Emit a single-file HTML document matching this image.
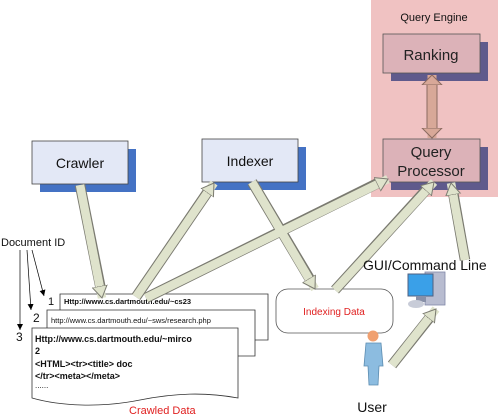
<!DOCTYPE html>
<html><head><meta charset="utf-8"><style>
html,body{margin:0;padding:0;background:#fff;}
svg{display:block;font-family:"Liberation Sans",sans-serif;}
</style></head><body>
<svg width="500" height="418" viewBox="0 0 500 418" xmlns="http://www.w3.org/2000/svg">
<defs>
<marker id="ah" markerUnits="userSpaceOnUse" markerWidth="18" markerHeight="18" refX="12" refY="8" orient="auto">
<path d="M0,0.5 L12,8 L0,15.5 z" fill="#dfe3cc" stroke="#7a7a70" stroke-width="1"/>
</marker>
<marker id="ahb" markerUnits="userSpaceOnUse" markerWidth="22" markerHeight="22" refX="10" refY="11" orient="auto-start-reverse">
<path d="M0,1 L10,11 L0,21 z" fill="#d8a898" stroke="#8a6a60" stroke-width="1"/>
</marker>
<marker id="sm" markerUnits="userSpaceOnUse" markerWidth="8" markerHeight="8" refX="6" refY="3" orient="auto">
<path d="M0,0 L6,3 L0,6 z" fill="#000"/>
</marker>
</defs>

<!-- Query engine -->
<rect x="371" y="0" width="127" height="197" fill="#f0c2c2"/>
<text x="434" y="21" font-size="11" text-anchor="middle" fill="#111">Query Engine</text>
<rect x="391" y="42" width="97" height="39" fill="#5f5a8c"/>
<rect x="383" y="34" width="97" height="39" fill="#dcb2b8" stroke="#555" stroke-width="0.8"/>
<text x="431" y="60" font-size="15" text-anchor="middle" fill="#222">Ranking</text>
<rect x="391" y="147" width="97" height="43" fill="#5f5a8c"/>
<rect x="383" y="139" width="97" height="43" fill="#dcb2b8" stroke="#555" stroke-width="0.8"/>
<text x="431" y="157" font-size="15" text-anchor="middle" fill="#222">Query</text>
<text x="431" y="176" font-size="15" text-anchor="middle" fill="#222">Processor</text>
<!-- double arrow -->
<line x1="432" y1="80" x2="432" y2="133" stroke="#8a6a60" stroke-width="11"/>
<line x1="432" y1="75" x2="432" y2="138" stroke="#d8a898" stroke-width="9" marker-start="url(#ahb)" marker-end="url(#ahb)"/>

<!-- Crawler / Indexer -->
<rect x="40" y="149" width="96" height="43" fill="#4472c4"/>
<rect x="32" y="141" width="96" height="43" fill="#e3e8f6" stroke="#444" stroke-width="0.8"/>
<text x="80" y="168" font-size="14" text-anchor="middle" fill="#111">Crawler</text>
<rect x="210" y="147" width="96" height="43" fill="#4472c4"/>
<rect x="202" y="139" width="96" height="43" fill="#e3e8f6" stroke="#444" stroke-width="0.8"/>
<text x="250" y="166" font-size="14" text-anchor="middle" fill="#111">Indexer</text>

<!-- Documents -->
<path d="M60,294 H268 V340 H60 Z" fill="#fff" stroke="#333" stroke-width="0.8"/>
<text x="64" y="304" font-size="7.5" font-weight="bold" fill="#111">Http://www.cs.dartmouth.edu/~cs23</text>
<path d="M47,310 H255 V356 H47 Z" fill="#fff" stroke="#333" stroke-width="0.8"/>
<text x="51" y="323" font-size="7.5" fill="#111">http://www.cs.dartmouth.edu/~sws/research.php</text>
<path d="M32,328 H238 V398 C205,392 175,393 140,400 C100,408 60,406 32,398 Z" fill="#fff" stroke="#333" stroke-width="0.8"/>
<text x="35" y="342" font-size="9" font-weight="bold" fill="#111">Http://www.cs.dartmouth.edu/~mirco</text>
<text x="35" y="354" font-size="9" font-weight="bold" fill="#111">2</text>
<text x="35" y="367" font-size="9" font-weight="bold" fill="#111">&lt;HTML&gt;&lt;tr&gt;&lt;title&gt; doc</text>
<text x="35" y="379" font-size="9" font-weight="bold" fill="#111">&lt;/tr&gt;&lt;meta&gt;&lt;/meta&gt;</text>
<text x="35" y="388" font-size="8" fill="#111">......</text>
<text x="129" y="414" font-size="11" fill="#e02020">Crawled Data</text>

<text x="1" y="246" font-size="11" fill="#111">Document ID</text>
<text x="48" y="305" font-size="11" fill="#111">1</text>
<text x="33" y="322" font-size="12" fill="#111">2</text>
<text x="16" y="341" font-size="12" fill="#111">3</text>
<line x1="32" y1="250" x2="44" y2="296" stroke="#000" stroke-width="0.7" marker-end="url(#sm)"/>
<line x1="27" y1="250" x2="31" y2="310" stroke="#000" stroke-width="0.7" marker-end="url(#sm)"/>
<line x1="20" y1="250" x2="20" y2="330" stroke="#000" stroke-width="0.7" marker-end="url(#sm)"/>

<!-- Indexing data -->
<rect x="276" y="289" width="117" height="44" rx="12" fill="#fff" stroke="#555" stroke-width="0.8"/>
<text x="334" y="315" font-size="10" text-anchor="middle" fill="#e02020">Indexing Data</text>

<!-- fat arrows -->
<g stroke-linecap="butt">
<g stroke="#7a7a70" stroke-width="10.5">
<line x1="80" y1="185" x2="101" y2="290"/>
<line x1="136" y1="297" x2="209" y2="190"/>
<line x1="252" y1="182" x2="311" y2="281"/>
<line x1="146" y1="298" x2="378" y2="183"/>
<line x1="335" y1="290" x2="426" y2="190"/>
<line x1="465" y1="260" x2="453" y2="192"/>
<line x1="392" y1="365" x2="431" y2="316"/>
</g>
<g stroke="#dfe3cc" stroke-width="8.5">
<line x1="80" y1="185" x2="102" y2="298" marker-end="url(#ah)"/>
<line x1="136" y1="297" x2="214" y2="183" marker-end="url(#ah)"/>
<line x1="252" y1="182" x2="315" y2="289" marker-end="url(#ah)"/>
<line x1="146" y1="298" x2="388" y2="179" marker-end="url(#ah)"/>
<line x1="335" y1="290" x2="434" y2="182" marker-end="url(#ah)"/>
<line x1="465" y1="260" x2="451" y2="183" marker-end="url(#ah)"/>
<line x1="392" y1="365" x2="436" y2="309" marker-end="url(#ah)"/>
</g>
</g>

<!-- GUI -->
<text x="363" y="270" font-size="14" fill="#111">GUI/Command Line</text>
<rect x="425" y="272" width="20" height="33" fill="#b8bcd0" stroke="#8088a8" stroke-width="0.8"/>
<rect x="408" y="274" width="25" height="22" fill="#3aa0e8" stroke="#506080" stroke-width="1"/>
<rect x="416" y="296" width="10" height="6" fill="#8890a8"/>
<ellipse cx="416" cy="304" rx="8" ry="4" fill="#c8ccd8"/>

<!-- User -->
<circle cx="373" cy="336" r="5.5" fill="#f0a070"/>
<path d="M366,343 H381 L383,366 H379 L378,385 H369 L368,366 H364 Z" fill="#8cbce0" stroke="#5c8cb0" stroke-width="0.8"/>
<text x="372" y="412" font-size="14" text-anchor="middle" fill="#111">User</text>
</svg>
</body></html>
